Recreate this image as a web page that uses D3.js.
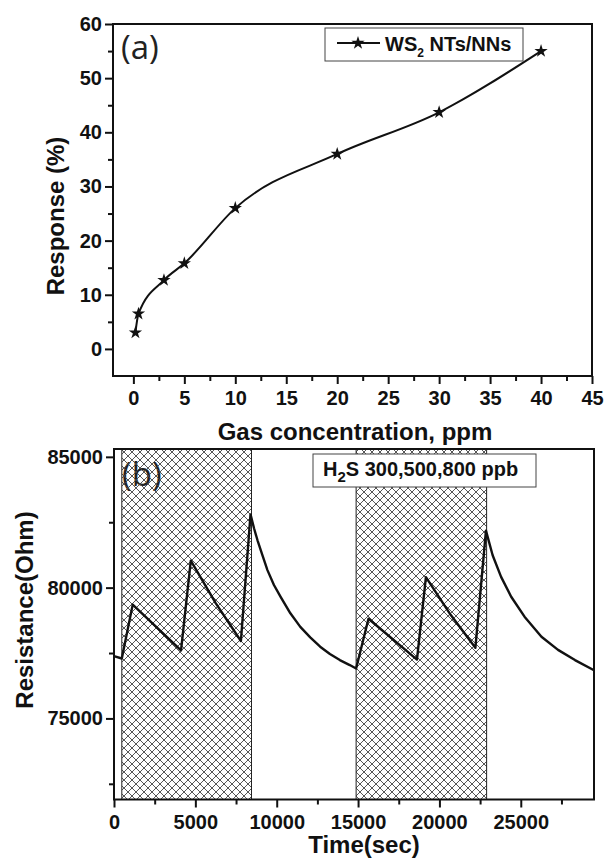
<!DOCTYPE html>
<html>
<head>
<meta charset="utf-8">
<script src="https://cdn.jsdelivr.net/npm/d3@7"></script>
<style>
  body { margin: 0; background: #fff; }
  svg { display: block; }
  .tick text { font-family: "Liberation Sans", Arial, sans-serif; font-weight: bold; font-size: 20px; fill: #111; }
  .tick line { stroke: #111; stroke-width: 2; }
  .domain { display: none; }
  .title { font-family: "Liberation Sans", Arial, sans-serif; font-weight: bold; font-size: 24px; fill: #111; }
  .lbl { font-family: "Open Sans", sans-serif; font-size: 33px; fill: #222; }
  .leg { font-family: "Liberation Sans", Arial, sans-serif; font-weight: bold; font-size: 20px; fill: #111; }
</style>
</head>
<body>
<div id="chart"></div>
<script>
// panel (a): response vs gas concentration
const conc = [0.2, 0.5, 3, 5, 10, 20, 30, 40];
const response = [3, 6.5, 12.7, 15.8, 26, 36, 43.7, 55];
const xTicksA = [0, 5, 10, 15, 20, 25, 30, 35, 40, 45];
const yTicksA = [0, 10, 20, 30, 40, 50, 60];

// panel (b): resistance vs time
const time = [0, 480, 1150, 4120, 4720, 6260, 7800, 8390,
  8610, 8820, 9120, 9430, 9830, 10240, 10840, 11450, 12060, 12670, 13270, 13880, 14490, 14880,
  15640, 18620, 19170, 20700, 22210, 22860,
  23270, 23790, 24410, 25230, 26270, 27290, 28330, 29500];
const resistance = [77380, 77290, 79350, 77600, 81030, 79400, 77960, 82800,
  82260, 81810, 81240, 80670, 80100, 79650, 79020, 78500, 78100, 77740, 77460, 77230, 77040, 76910,
  78810, 77250, 80400, 78950, 77700, 82180,
  81240, 80410, 79650, 78890, 78120, 77620, 77230, 76840];
const gasOn = [[480, 8450], [14880, 22900]];
const xTicksB = [0, 5000, 10000, 15000, 20000, 25000];
const yTicksB = [75000, 80000, 85000];

const W = 605, H = 860;
const svg = d3.select("#chart").append("svg").attr("width", W).attr("height", H);

// hatch pattern
const pat = svg.append("defs").append("pattern")
    .attr("id", "hatch")
    .attr("patternUnits", "userSpaceOnUse")
    .attr("width", 8).attr("height", 8);
pat.append("path").attr("d", "M0,0L8,8M8,0L0,8M-1,7L1,9M7,-1L9,1M-1,1L1,-1M7,9L9,7")
    .attr("stroke", "#444").attr("stroke-width", 0.9);

function frame(g, x, y) {
  g.append("rect")
      .attr("x", x.range()[0]).attr("y", y.range()[1])
      .attr("width", x.range()[1] - x.range()[0])
      .attr("height", y.range()[0] - y.range()[1])
      .attr("fill", "none").attr("stroke", "#111").attr("stroke-width", 2);
}

function axes(g, x, y, xt, xm, yt, ym) {
  const b = y.range()[0], l = x.range()[0];
  g.append("g").attr("transform", `translate(0,${b})`)
      .call(d3.axisBottom(x).tickValues(xm).tickSize(5).tickFormat(""));
  g.append("g").attr("transform", `translate(0,${b})`)
      .call(d3.axisBottom(x).tickValues(xt).tickSize(8).tickPadding(7).tickFormat(d3.format("d")));
  g.append("g").attr("transform", `translate(${l},0)`)
      .call(d3.axisLeft(y).tickValues(ym).tickSize(5).tickFormat(""));
  g.append("g").attr("transform", `translate(${l},0)`)
      .call(d3.axisLeft(y).tickValues(yt).tickSize(8).tickPadding(3).tickFormat(d3.format("d")));
}

// ---- panel (a)
const xa = d3.scaleLinear().domain([-2, 45]).range([113, 592]);
const ya = d3.scaleLinear().domain([-5, 60]).range([376, 24]);
const ga = svg.append("g");
const star = d3.symbol().type(d3.symbolStar).size(55);

ga.append("text").attr("class", "lbl").attr("x", 121).attr("y", 59).text("(a)");

ga.append("path")
    .datum(conc.map((c, i) => [c, response[i]]))
    .attr("fill", "none").attr("stroke", "#111").attr("stroke-width", 2)
    .attr("d", d3.line().x(d => xa(d[0])).y(d => ya(d[1])).curve(d3.curveMonotoneX));

ga.selectAll(".pt").data(conc).enter().append("path")
    .attr("class", "pt")
    .attr("transform", (d, i) => `translate(${xa(d)},${ya(response[i])})`)
    .attr("d", star).attr("fill", "#111");

axes(ga, xa, ya, xTicksA, d3.range(2.5, 45, 5), yTicksA, d3.range(5, 60, 10));
frame(ga, xa, ya);

// legend (a)
const la = ga.append("g");
la.append("rect").attr("x", 325).attr("y", 28).attr("width", 198).attr("height", 33)
    .attr("fill", "#fff").attr("stroke", "#444").attr("stroke-width", 1);
la.append("line").attr("x1", 337).attr("x2", 380).attr("y1", 43).attr("y2", 43)
    .attr("stroke", "#111").attr("stroke-width", 2);
la.append("path").attr("transform", "translate(358,43)").attr("d", star).attr("fill", "#111");
const ta = la.append("text").attr("class", "leg").attr("x", 385).attr("y", 51);
ta.append("tspan").text("WS");
ta.append("tspan").attr("font-size", 12).attr("dy", 6).text("2");
ta.append("tspan").attr("dy", -6).text(" NTs/NNs");

ga.append("text").attr("class", "title")
    .attr("transform", "translate(64,216) rotate(-90)")
    .attr("text-anchor", "middle").text("Response (%)");
ga.append("text").attr("class", "title").attr("x", 355).attr("y", 440)
    .attr("text-anchor", "middle").text("Gas concentration, ppm");

// ---- panel (b)
const xb = d3.scaleLinear().domain([0, 29500]).range([114, 594]);
const yb = d3.scaleLinear().domain([71900, 85300]).range([799.5, 449]);
const gb = svg.append("g");

gb.append("text").attr("class", "lbl").attr("x", 122).attr("y", 486).text("(b)");

gb.selectAll(".gas").data(gasOn).enter().append("rect")
    .attr("class", "gas")
    .attr("x", d => xb(d[0])).attr("width", d => xb(d[1]) - xb(d[0]))
    .attr("y", yb.range()[1]).attr("height", yb.range()[0] - yb.range()[1])
    .attr("fill", "url(#hatch)").attr("stroke", "#222").attr("stroke-width", 1);

gb.append("path")
    .datum(time.map((t, i) => [t, resistance[i]]))
    .attr("fill", "none").attr("stroke", "#111").attr("stroke-width", 2.4)
    .attr("stroke-linejoin", "round")
    .attr("d", d3.line().x(d => xb(d[0])).y(d => yb(d[1])));

axes(gb, xb, yb, xTicksB, d3.range(2500, 29500, 5000), yTicksB, [72500, 77500, 82500]);
frame(gb, xb, yb);

const lb = gb.append("g");
lb.append("rect").attr("x", 313).attr("y", 454).attr("width", 223).attr("height", 33)
    .attr("fill", "#fff").attr("stroke", "#444").attr("stroke-width", 1);
const tb = lb.append("text").attr("class", "leg").attr("x", 323).attr("y", 476);
tb.append("tspan").text("H");
tb.append("tspan").attr("font-size", 15).attr("dy", 6).text("2");
tb.append("tspan").attr("dy", -6).text("S 300,500,800 ppb");

gb.append("text").attr("class", "title")
    .attr("transform", "translate(33,610) rotate(-90)")
    .attr("text-anchor", "middle").text("Resistance(Ohm)");
gb.append("text").attr("class", "title").attr("x", 364).attr("y", 853)
    .attr("text-anchor", "middle").text("Time(sec)");
</script>
</body>
</html>
